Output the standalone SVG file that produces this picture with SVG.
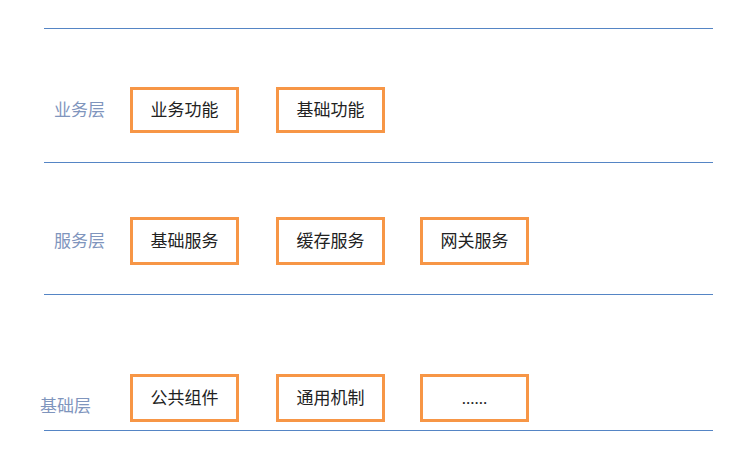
<svg xmlns="http://www.w3.org/2000/svg" width="733" height="468" viewBox="0 0 733 468">
<style>
.sep{stroke:#5585c5;stroke-width:1.2}
.box rect{fill:#fff;stroke:#F79646;stroke-width:3}
.box text{font-family:"Liberation Serif","Noto Sans CJK SC",serif;font-size:17px;fill:#222;text-anchor:middle;dominant-baseline:central}
.lbl{font-family:"Liberation Serif","Noto Sans CJK SC",serif;font-size:17px;fill:#7f95bd}
</style>
<rect width="733" height="468" fill="#fff"/>
<g id="separators">
<line class="sep" x1="44" y1="28.5" x2="713" y2="28.5"/>
<line class="sep" x1="44" y1="162.5" x2="713" y2="162.5"/>
<line class="sep" x1="44" y1="294.5" x2="713" y2="294.5"/>
<line class="sep" x1="44" y1="430.5" x2="713" y2="430.5"/>
</g>
<g id="layer-labels">
<text class="lbl" x="54" y="116">业务层</text>
<text class="lbl" x="54" y="247">服务层</text>
<text class="lbl" x="40" y="412">基础层</text>
</g>
<g id="n1" class="box"><rect x="131.5" y="88.5" width="106" height="43"/><text x="184.5" y="110">业务功能</text></g>
<g id="n2" class="box"><rect x="277.5" y="88.5" width="106" height="43"/><text x="330.5" y="110">基础功能</text></g>
<g id="n3" class="box"><rect x="131.5" y="218.5" width="106" height="45"/><text x="184.5" y="241">基础服务</text></g>
<g id="n4" class="box"><rect x="277.5" y="218.5" width="106" height="45"/><text x="330.5" y="241">缓存服务</text></g>
<g id="n5" class="box"><rect x="421.5" y="218.5" width="106" height="45"/><text x="474.5" y="241">网关服务</text></g>
<g id="n6" class="box"><rect x="131.5" y="375.5" width="106" height="45"/><text x="184.5" y="398">公共组件</text></g>
<g id="n7" class="box"><rect x="277.5" y="375.5" width="106" height="45"/><text x="330.5" y="398">通用机制</text></g>
<g id="n8" class="box"><rect x="421.5" y="375.5" width="106" height="45"/><text x="474.5" y="398">......</text></g>
<g id="connectors"/>
</svg>
